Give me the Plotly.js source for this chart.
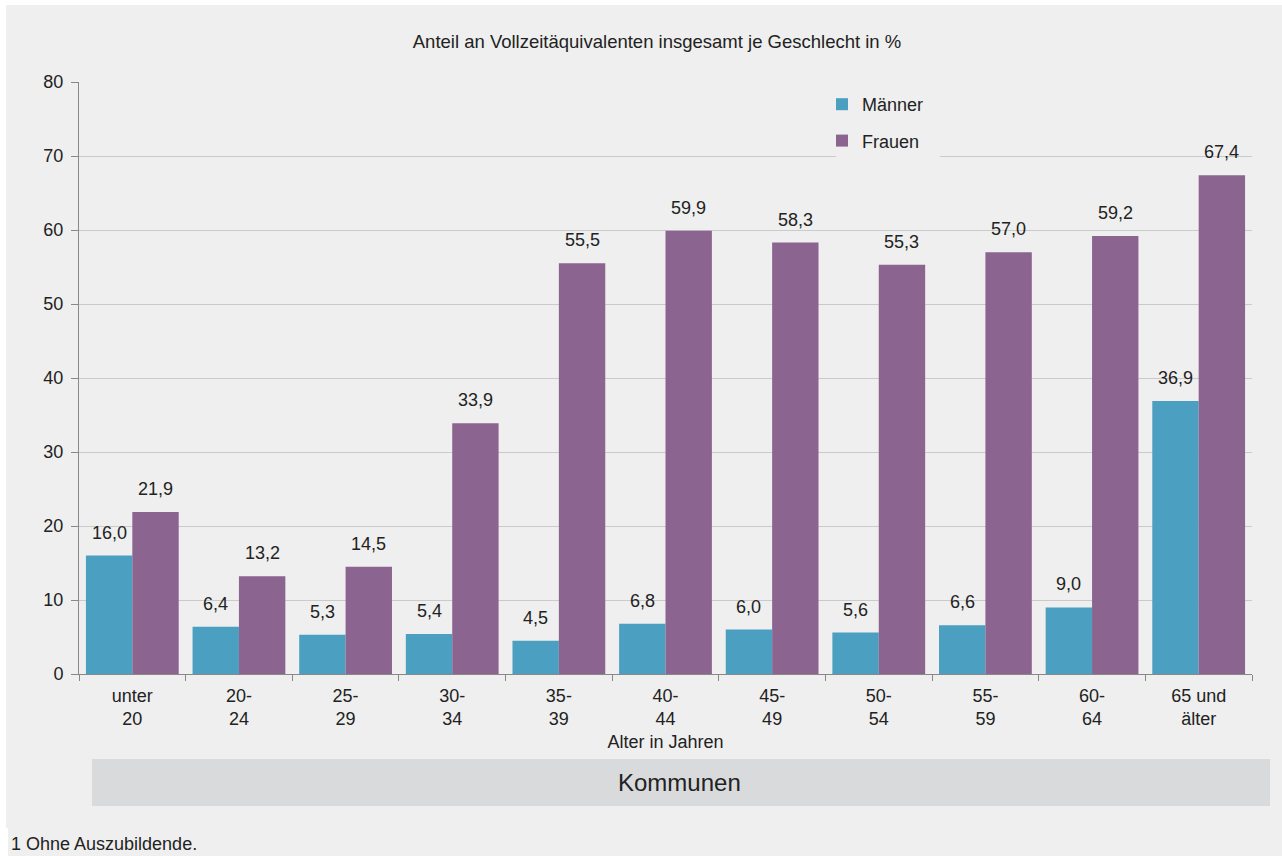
<!DOCTYPE html>
<html><head><meta charset="utf-8">
<script src="https://cdn.plot.ly/plotly-3.0.1.min.js"></script>
<style>html,body{margin:0;padding:0;background:#fff}</style>
</head><body>
<div id="chart" style="width:1282px;height:856px"></div>
<script>
const categories = ["unter<br>20","20-<br>24","25-<br>29","30-<br>34","35-<br>39","40-<br>44","45-<br>49","50-<br>54","55-<br>59","60-<br>64","65 und<br>älter"];
const maenner = [16.0, 6.4, 5.3, 5.4, 4.5, 6.8, 6.0, 5.6, 6.6, 9.0, 36.9];
const frauen  = [21.9, 13.2, 14.5, 33.9, 55.5, 59.9, 58.3, 55.3, 57.0, 59.2, 67.4];
const yTicks = [0,10,20,30,40,50,60,70,80];

const W = 1282, H = 856;
const L = 79, R = 1252, T = 82, B = 674;
const pw = R - L, ph = B - T;
const px = v => (v - L) / pw;
const py = v => (B - v) / ph;
const fmt = v => v.toFixed(1).replace('.', ',');
const font = "'Liberation Sans', Arial, sans-serif";
const bg = '#eeefee';
const fs = 18;

const traces = [
  {type:'bar', name:'Männer', x:categories, y:maenner, marker:{color:'#4b9fc0'}, legendgroup:'a', hoverinfo:'skip'},
  {type:'bar', name:'Frauen', x:categories, y:frauen, marker:{color:'#8b6490'}, legendgroup:'b', hoverinfo:'skip'}
];

const annotations = [];
const half = pw / categories.length * 0.87 / 4;
categories.forEach((c, i) => {
  annotations.push({x:c, y:maenner[i], xref:'x', yref:'y', text:fmt(maenner[i]), showarrow:false, yanchor:'bottom', xshift:-half, yshift:11, font:{family:font, size:fs, color:'#222'}});
  annotations.push({x:c, y:frauen[i], xref:'x', yref:'y', text:fmt(frauen[i]), showarrow:false, yanchor:'bottom', xshift:half, yshift:11, font:{family:font, size:fs, color:'#222'}});
});
annotations.push({x:px(679), y:py(782), xref:'paper', yref:'paper', text:'Kommunen', showarrow:false, xanchor:'center', yanchor:'middle', font:{family:font, size:24, color:'#222'}});
annotations.push({x:px(9), y:py(844), xref:'paper', yref:'paper', text:'1 Ohne Auszubildende.', showarrow:false, xanchor:'left', yanchor:'middle', font:{family:font, size:fs, color:'#222'}});

const shapes = [
  {type:'rect', xref:'paper', yref:'paper', x0:px(6), x1:px(1282), y0:py(828), y1:py(5), fillcolor:bg, line:{width:0}, layer:'below'},
  {type:'rect', xref:'paper', yref:'paper', x0:px(8), x1:px(1282), y0:py(856), y1:py(828), fillcolor:bg, line:{width:0}, layer:'below'},
  {type:'rect', xref:'paper', yref:'paper', x0:px(92), x1:px(1270), y0:py(806), y1:py(759), fillcolor:'#d9dadb', line:{width:0}, layer:'below'},
  {type:'rect', xref:'paper', yref:'paper', x0:px(836), x1:px(940), y0:py(158), y1:py(84), fillcolor:bg, line:{width:0}, layer:'above'}
];

const layout = {
  width:W, height:H,
  margin:{l:L, r:W-R, t:T, b:H-B, pad:0},
  paper_bgcolor:'#fff', plot_bgcolor:bg,
  font:{family:font, size:fs, color:'#222'},
  title:{text:'Anteil an Vollzeitäquivalenten insgesamt je Geschlecht in %', x:px(657), xref:'paper', xanchor:'center', y:1-42/H, yanchor:'middle', font:{family:font, size:18.5, color:'#222'}},
  barmode:'group', bargap:0.13, bargroupgap:0,
  xaxis:{type:'category', showline:true, linecolor:'#888', linewidth:1, ticks:'outside', tickson:'boundaries', ticklen:6, tickcolor:'#888', showgrid:false, tickfont:{family:font, size:fs, color:'#222'}, ticklabelstandoff:5,
    title:{text:'Alter in Jahren', standoff:7, font:{family:font, size:fs, color:'#222'}}},
  yaxis:{range:[0,80], tickvals:yTicks, showline:true, linecolor:'#888', linewidth:1, ticks:'outside', ticklen:7, tickcolor:'#888', gridcolor:'#cacaca', gridwidth:1, zeroline:false, tickfont:{family:font, size:fs, color:'#222'}, ticklabelstandoff:4},
  showlegend:true,
  legend:{x:px(822), y:py(86), xanchor:'left', yanchor:'top', bgcolor:'rgba(0,0,0,0)', borderwidth:0, traceorder:'grouped', tracegroupgap:10, font:{family:font, size:fs, color:'#222'}, itemwidth:30},
  annotations:annotations, shapes:shapes
};

Plotly.newPlot('chart', traces, layout, {displayModeBar:false, staticPlot:true});
</script>
</body></html>
